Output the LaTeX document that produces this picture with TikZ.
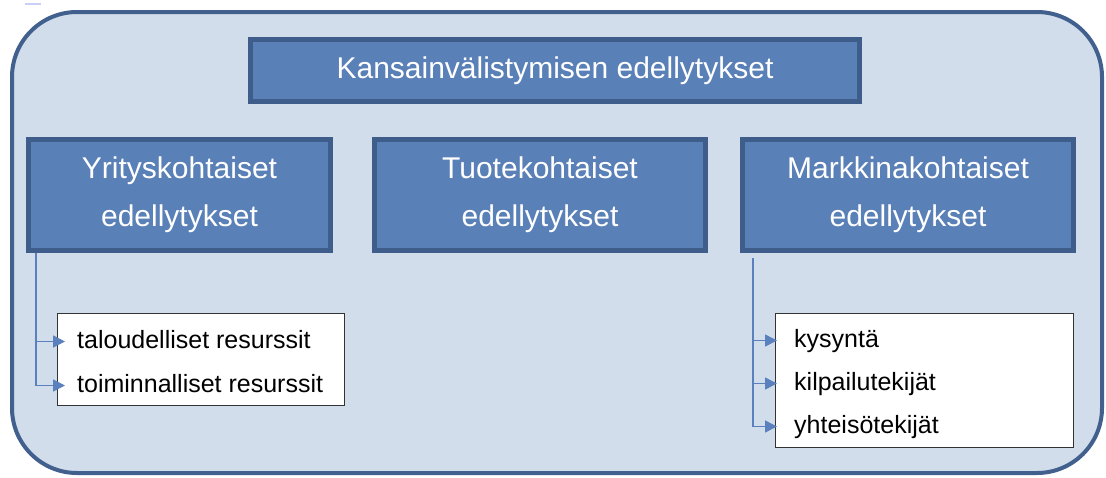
\documentclass[tikz,border=0pt]{standalone}
\usepackage{fontspec}
\setmainfont{Liberation Sans}
\usetikzlibrary{arrows.meta}
\definecolor{outerfill}{HTML}{D1DDEA}
\definecolor{outerline}{HTML}{41608E}
\definecolor{boxfill}{HTML}{5A80B8}
\definecolor{boxline}{HTML}{3F5D8B}
\definecolor{arrowcol}{HTML}{5B80BE}
\tikzset{
  bluebox/.style={draw=boxline, line width=5pt, fill=boxfill, text=white, align=center, inner sep=0pt, font=\fontsize{30}{48}\selectfont},
  whitebox/.style={draw=black!80, line width=1pt, fill=white, inner sep=0pt},
  itemtext/.style={anchor=base west, inner ysep=0pt, text height=18pt, text depth=5pt, font=\fontsize{25}{30}\selectfont},
  conn/.style={draw=arrowcol, line width=1.5pt, -{Triangle[length=12pt,width=12pt]}}
}
\begin{document}
\begin{tikzpicture}[x=1pt,y=-1pt]
\useasboundingbox (0,0) rectangle (1106,477);
\draw[color=outerfill!80!blue!60, line width=2pt] (25,4) -- (41,4);
\draw[draw=outerline, line width=4pt, fill=outerfill, rounded corners=65pt] (12,12) rectangle (1102,473);
\node[bluebox, minimum width=609pt, minimum height=62pt] (top) at (555,70.5) {Kansainvälistymisen edellytykset};
\node[bluebox, minimum width=302pt, minimum height=111pt] (yr) at (179.5,195) {Yrityskohtaiset\\edellytykset};
\node[bluebox, minimum width=331pt, minimum height=111pt] (tu) at (540,195) {Tuotekohtaiset\\edellytykset};
\node[bluebox, minimum width=331pt, minimum height=111pt] (ma) at (908,195) {Markkinakohtaiset\\edellytykset};
\node[whitebox, minimum width=287pt, minimum height=92pt] (wl) at (201,359.5) {};
\node[whitebox, minimum width=298pt, minimum height=134pt] (wr) at (924.5,380.5) {};
\node[itemtext, inner xsep=12pt] (t1) at (65,348) {taloudelliset resurssit};
\node[itemtext, inner xsep=12pt] (t2) at (65,392) {toiminnalliset resurssit};
\node[itemtext, inner xsep=17pt] (k1) at (777,347) {kysyntä};
\node[itemtext, inner xsep=17pt] (k2) at (777,390) {kilpailutekijät};
\node[itemtext, inner xsep=17pt] (k3) at (777,433) {yhteisötekijät};
\coordinate (ls) at (36,253);
\coordinate (rs) at (753,258);
\draw[conn] (ls) |- (t1.west);
\draw[conn] (ls) |- (t2.west);
\draw[conn] (rs) |- (k1.west);
\draw[conn] (rs) |- (k2.west);
\draw[conn] (rs) |- (k3.west);
\end{tikzpicture}
\end{document}
